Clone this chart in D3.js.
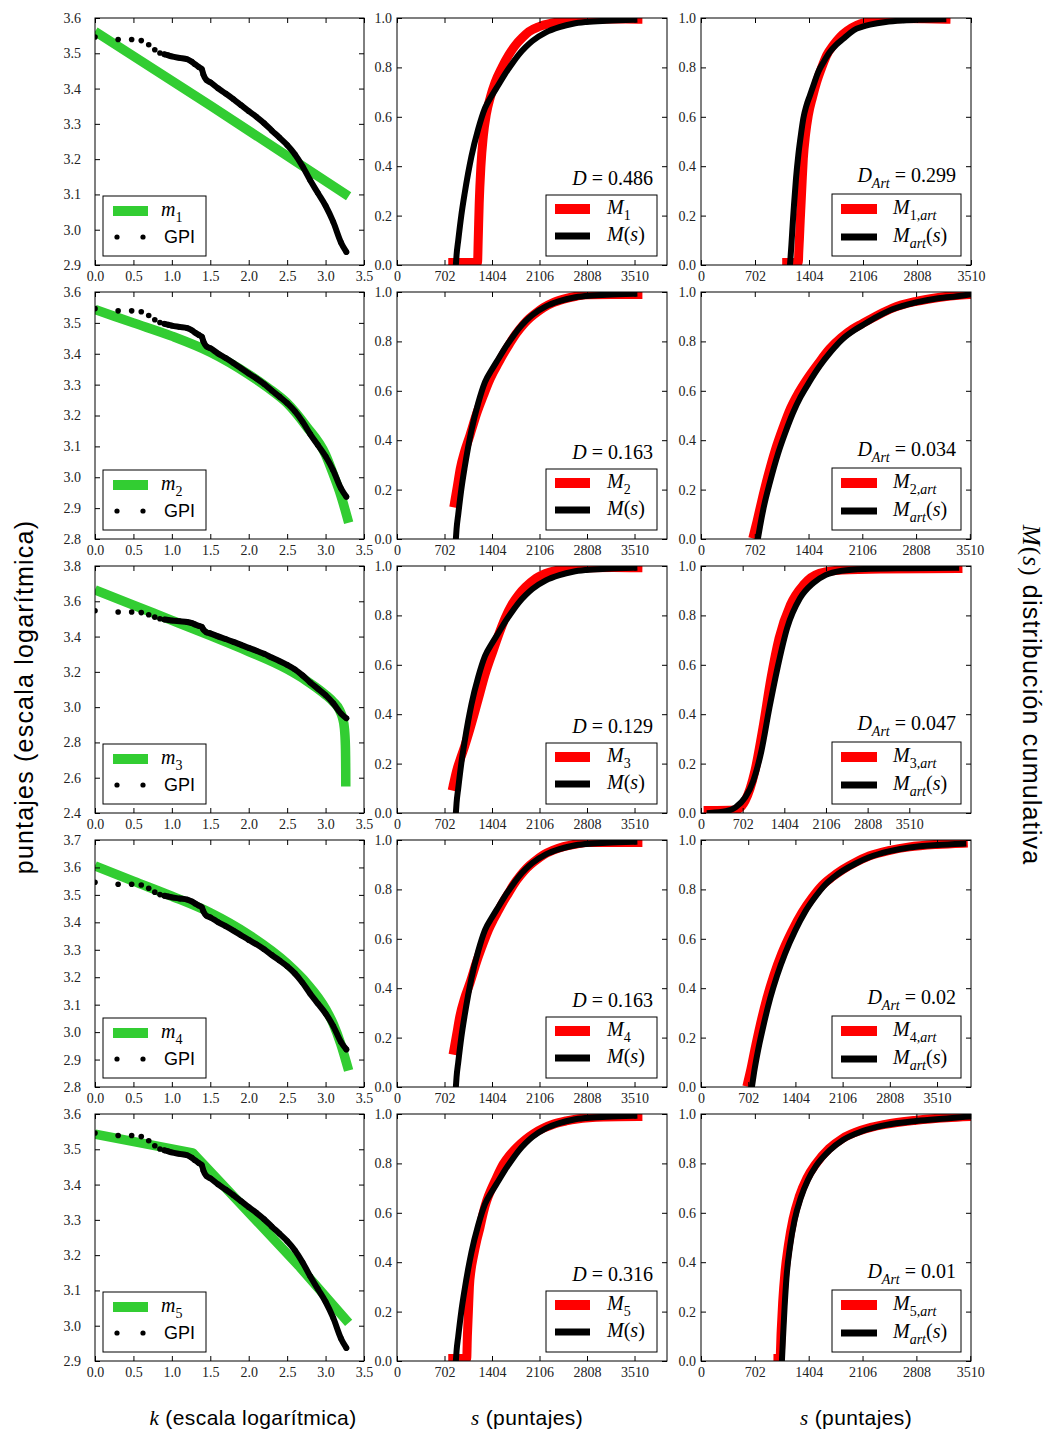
<!DOCTYPE html>
<html>
<head>
<meta charset="utf-8">
<script src="https://cdn.jsdelivr.net/npm/d3@7"></script>
<style>
  body { margin: 0; background: #fff; }
  svg { display: block; }
  text { white-space: pre; }
</style>
</head>
<body>
<script>
// ---------- data ----------
// GPI ranking: [log10 rank k, log10 score]
const gpi = [
  [0.000,3.546],[0.301,3.539],[0.477,3.539],[0.602,3.536],[0.699,3.524],[0.778,3.510],
  [0.845,3.501],[0.903,3.497],[0.954,3.494],[1.000,3.491],[1.100,3.487],[1.200,3.483],
  [1.260,3.476],[1.300,3.469],[1.350,3.461],[1.390,3.455],[1.410,3.440],[1.450,3.424],
  [1.500,3.418],[1.600,3.401],[1.700,3.386],[1.800,3.370],[1.900,3.353],[2.000,3.336],
  [2.100,3.320],[2.200,3.302],[2.300,3.281],[2.400,3.261],[2.500,3.240],[2.600,3.214],
  [2.700,3.180],[2.800,3.140],[2.900,3.104],[3.000,3.068],[3.100,3.022],[3.200,2.964],
  [3.270,2.937]
];
// fitted rank models m1..m5: [log10 k, log10 score]
const m1 = [[0,3.562],[1.5,3.352],[3.30,3.095]];
const m2 = [[0,3.543],[0.5,3.500],[1.0,3.457],[1.5,3.405],[2.0,3.333],[2.25,3.290],[2.5,3.240],
            [2.75,3.165],[3.0,3.073],[3.1,3.010],[3.2,2.940],[3.25,2.898],[3.3,2.853]];
const m3 = [[0,3.665],[0.5,3.578],[1.0,3.492],[1.5,3.405],[2.0,3.315],[2.5,3.215],[2.75,3.150],
            [3.0,3.070],[3.1,3.030],[3.18,2.985],[3.22,2.940],[3.245,2.880],[3.258,2.780],
            [3.262,2.650],[3.263,2.550]];
const m4 = [[0,3.606],[0.5,3.550],[1.0,3.495],[1.5,3.435],[2.0,3.355],[2.5,3.250],[2.75,3.180],
            [3.0,3.085],[3.1,3.030],[3.2,2.955],[3.3,2.860]];
const m5 = [[0,3.543],[1.27,3.490],[2.65,3.170],[3.3,3.008]];
const rankModels = [m1, m2, m3, m4, m5];
const rankModelSmooth = [false, true, true, true, false];

// empirical cumulative distribution of GPI scores: [s, M(s)]
const cdfGpi = [
  [870,0],[880,0.04],[905,0.10],[950,0.20],[1000,0.29],[1050,0.37],[1100,0.44],[1200,0.55],
  [1300,0.635],[1400,0.685],[1500,0.73],[1600,0.775],[1700,0.815],[1800,0.852],[1900,0.882],
  [2000,0.907],[2200,0.942],[2400,0.963],[2600,0.977],[2800,0.984],[3100,0.989],[3508,0.993]
];
// model cumulative distributions M1..M5: [s, M_i(s)]
const cdfM1 = [[824,0.01],[1190,0.01],[1200,0.10],[1215,0.25],[1240,0.40],[1275,0.52],[1320,0.61],
  [1380,0.68],[1450,0.74],[1550,0.80],[1650,0.85],[1750,0.89],[1850,0.92],[1950,0.945],[2100,0.965],
  [2300,0.98],[2600,0.992],[3000,0.996],[3560,0.995]];
const cdfM2 = [[850,0.146],[890,0.21],[935,0.285],[1000,0.355],[1078,0.42],[1180,0.51],[1276,0.58],
  [1350,0.632],[1424,0.675],[1500,0.713],[1572,0.749],[1650,0.784],[1720,0.815],[1820,0.852],
  [1918,0.883],[2040,0.912],[2165,0.937],[2300,0.956],[2462,0.971],[2650,0.983],[2808,0.989],
  [3200,0.990],[3560,0.990]];
const cdfM3 = [[829,0.109],[880,0.17],[950,0.23],[1000,0.27],[1078,0.34],[1200,0.46],[1300,0.56],
  [1424,0.66],[1500,0.72],[1600,0.79],[1700,0.845],[1800,0.885],[1900,0.915],[2050,0.95],
  [2250,0.975],[2500,0.988],[2800,0.993],[3200,0.994],[3560,0.993]];
const cdfM4 = [[840,0.149],[880,0.21],[929,0.287],[1000,0.36],[1078,0.421],[1180,0.51],[1276,0.583],
  [1350,0.635],[1424,0.677],[1500,0.715],[1572,0.751],[1650,0.786],[1720,0.818],[1820,0.855],
  [1918,0.886],[2040,0.915],[2165,0.94],[2300,0.958],[2462,0.973],[2650,0.984],[2808,0.99],
  [3200,0.99],[3560,0.99]];
const cdfM5 = [[824,0.01],[1030,0.01],[1040,0.10],[1055,0.20],[1070,0.30],[1095,0.37],[1127,0.42],
  [1180,0.49],[1226,0.54],[1275,0.60],[1325,0.648],[1400,0.70],[1450,0.73],[1570,0.797],[1670,0.835],
  [1770,0.865],[1900,0.897],[2017,0.92],[2160,0.942],[2314,0.959],[2500,0.972],[2660,0.98],
  [3055,0.988],[3560,0.99]];
const modelCdfs = [cdfM1, cdfM2, cdfM3, cdfM4, cdfM5];

// artificial samples: empirical M_art(s) and model M_i,art(s)
const artEmp1 = [[1157,0],[1175,0.08],[1195,0.18],[1209,0.243],[1235,0.35],[1265,0.445],[1300,0.53],
  [1330,0.593],[1370,0.645],[1417,0.687],[1470,0.735],[1525,0.782],[1600,0.825],[1677,0.863],
  [1760,0.892],[1850,0.916],[1940,0.94],[2024,0.957],[2100,0.965],[2197,0.973],[2400,0.984],
  [2630,0.99],[2900,0.993],[3150,0.995]];
const artMod1 = [[1114,0.01],[1265,0.01],[1272,0.06],[1280,0.108],[1290,0.18],[1300,0.243],[1315,0.34],
  [1330,0.43],[1360,0.53],[1395,0.606],[1450,0.68],[1504,0.741],[1570,0.80],[1634,0.849],[1720,0.89],
  [1807,0.923],[1900,0.948],[2024,0.97],[2197,0.987],[2400,0.995],[2630,0.998],[2900,0.997],[3185,0.995]];
const artEmp2 = [[742,0],[770,0.05],[820,0.13],[900,0.23],[1000,0.34],[1100,0.43],[1200,0.51],
  [1300,0.575],[1404,0.63],[1550,0.70],[1700,0.76],[1850,0.81],[2000,0.845],[2106,0.865],[2300,0.90],
  [2500,0.93],[2808,0.958],[3100,0.975],[3400,0.985],[3500,0.99]];
const artMod2 = [[690,0.02],[730,0.07],[790,0.15],[870,0.25],[970,0.36],[1070,0.45],[1170,0.53],
  [1270,0.59],[1380,0.645],[1530,0.71],[1680,0.77],[1830,0.815],[1980,0.85],[2106,0.872],[2300,0.905],
  [2500,0.935],[2808,0.962],[3100,0.978],[3400,0.988],[3510,0.99]];
const artEmp3 = [[147,0],[419,0.007],[582,0.023],[745,0.063],[881,0.13],[1017,0.25],[1153,0.426],
  [1289,0.587],[1452,0.749],[1670,0.87],[1888,0.93],[2105,0.964],[2377,0.981],[2758,0.988],
  [3500,0.991],[4300,0.993]];
const artMod3 = [[120,0.01],[582,0.012],[745,0.05],[908,0.17],[1044,0.345],[1180,0.547],[1316,0.708],
  [1507,0.843],[1724,0.923],[1996,0.97],[2377,0.984],[3030,0.988],[3700,0.989],[4330,0.99]];
const artEmp4 = [[757,0],[790,0.06],[850,0.15],[930,0.25],[1030,0.36],[1130,0.45],[1250,0.54],
  [1404,0.635],[1550,0.71],[1700,0.77],[1850,0.82],[2000,0.855],[2106,0.875],[2300,0.905],
  [2500,0.93],[2808,0.955],[3100,0.97],[3510,0.98],[3900,0.985]];
const artMod4 = [[697,0.02],[740,0.07],[800,0.15],[880,0.25],[980,0.36],[1080,0.45],[1200,0.54],
  [1350,0.63],[1500,0.705],[1650,0.765],[1800,0.815],[1950,0.85],[2106,0.88],[2300,0.91],
  [2500,0.935],[2808,0.958],[3100,0.972],[3510,0.982],[3900,0.987]];
const artEmp5 = [[1055,0],[1070,0.10],[1090,0.22],[1115,0.34],[1159,0.46],[1220,0.57],[1300,0.66],
  [1394,0.733],[1500,0.79],[1680,0.854],[1850,0.895],[2097,0.93],[2400,0.955],[2808,0.972],
  [3200,0.982],[3510,0.99]];
const artMod5 = [[1003,0.01],[1030,0.01],[1045,0.12],[1065,0.24],[1095,0.36],[1140,0.47],[1200,0.575],
  [1280,0.665],[1380,0.74],[1490,0.795],[1670,0.86],[1840,0.9],[2097,0.935],[2400,0.958],
  [2808,0.975],[3200,0.985],[3510,0.99]];
const artEmp = [artEmp1, artEmp2, artEmp3, artEmp4, artEmp5];
const artMod = [artMod1, artMod2, artMod3, artMod4, artMod5];

// annotations
const modelIds = ["1", "2", "3", "4", "5"];
const dValues = ["0.486", "0.163", "0.129", "0.163", "0.316"];
const dArtValues = ["0.299", "0.034", "0.047", "0.02", "0.01"];

// axis domains and tick labels
const kTicks = [0, 0.5, 1.0, 1.5, 2.0, 2.5, 3.0, 3.5];
const sTicks = [0, 702, 1404, 2106, 2808, 3510];
const cdfTicks = [0, 0.2, 0.4, 0.6, 0.8, 1.0];
const leftYDomains = [[2.9, 3.6], [2.8, 3.6], [2.4, 3.8], [2.8, 3.7], [2.9, 3.6]];
const leftYTicks = [
  [2.9, 3.0, 3.1, 3.2, 3.3, 3.4, 3.5, 3.6],
  [2.8, 2.9, 3.0, 3.1, 3.2, 3.3, 3.4, 3.5, 3.6],
  [2.4, 2.6, 2.8, 3.0, 3.2, 3.4, 3.6, 3.8],
  [2.8, 2.9, 3.0, 3.1, 3.2, 3.3, 3.4, 3.5, 3.6, 3.7],
  [2.9, 3.0, 3.1, 3.2, 3.3, 3.4, 3.5, 3.6]
];
const midXMax = 3990;
const artXMax = [3510, 3525, 4550, 4015, 3520];

// ---------- layout & style ----------
const W = 1048, H = 1432;
const COLS = [
  { x0: 95, x1: 364, gap: 14 },
  { x0: 397, x1: 667, gap: 5 },
  { x0: 701, x1: 971, gap: 5 }
];
const ROW_TOP = [18, 292, 566, 840, 1114];
const ROW_H = 247;
const TICK = 5;
const SERIF = "'Liberation Serif', 'Times New Roman', serif";
const SANS = "'Liberation Sans', Arial, Helvetica, sans-serif";
const GREEN = "#32cd32", RED = "#ff0000", BLACK = "#000000";

const svg = d3.select("body").append("svg")
  .attr("width", W).attr("height", H)
  .attr("viewBox", `0 0 ${W} ${H}`);

let clipCount = 0;
function makePanel(col, row, xDomain, yDomain) {
  const c = COLS[col], top = ROW_TOP[row], bottom = top + ROW_H;
  const x = d3.scaleLinear().domain(xDomain).range([c.x0, c.x1]);
  const y = d3.scaleLinear().domain(yDomain).range([bottom, top]);
  const id = "clip" + (clipCount++);
  svg.append("clipPath").attr("id", id).append("rect")
    .attr("x", c.x0).attr("y", top).attr("width", c.x1 - c.x0).attr("height", ROW_H);
  const plot = svg.append("g").attr("clip-path", `url(#${id})`);
  return { x, y, plot, x0: c.x0, x1: c.x1, top, bottom, gap: c.gap };
}

function drawAxes(p, xTicks, xFmt, yTicks, yFmt) {
  const g = svg.append("g");
  g.append("g").attr("transform", `translate(0,${p.bottom})`)
    .call(d3.axisBottom(p.x).tickValues(xTicks).tickFormat(xFmt)
      .tickSizeInner(-TICK).tickSizeOuter(0).tickPadding(6));
  g.append("g").attr("transform", `translate(0,${p.top})`)
    .call(d3.axisTop(p.x).tickValues(xTicks).tickFormat(() => "")
      .tickSizeInner(-TICK).tickSizeOuter(0));
  g.append("g").attr("transform", `translate(${p.x0},0)`)
    .call(d3.axisLeft(p.y).tickValues(yTicks).tickFormat(yFmt)
      .tickSizeInner(-TICK).tickSizeOuter(0).tickPadding(p.gap));
  g.append("g").attr("transform", `translate(${p.x1},0)`)
    .call(d3.axisRight(p.y).tickValues(yTicks).tickFormat(() => "")
      .tickSizeInner(-TICK).tickSizeOuter(0));
  g.selectAll(".domain").remove();
  g.selectAll("g").attr("font-family", SERIF).attr("font-size", 14);
  g.selectAll(".tick line").attr("stroke", "#000").attr("stroke-width", 1);
  g.selectAll(".tick text").attr("fill", "#222");
  g.append("rect")
    .attr("x", p.x0).attr("y", p.top)
    .attr("width", p.x1 - p.x0).attr("height", ROW_H)
    .attr("fill", "none").attr("stroke", "#000").attr("stroke-width", 1);
}

// math-like text: parts are [text, style]; style: i italic, r roman, si/sr subscript
function mathText(sel, parts, size) {
  let inSub = false;
  parts.forEach(([t, s]) => {
    const sub = s[0] === "s";
    const ts = sel.append("tspan").text(t)
      .attr("font-style", s[s.length - 1] === "i" ? "italic" : "normal")
      .attr("font-size", sub ? size * 0.7 : size);
    if (sub && !inSub) ts.attr("dy", size * 0.3);
    if (!sub && inSub) ts.attr("dy", -size * 0.3);
    inSub = sub;
  });
  return sel;
}

function lineGen(p, smooth) {
  const g = d3.line().x(d => p.x(d[0])).y(d => p.y(d[1]));
  return smooth ? g.curve(d3.curveMonotoneX) : g;
}

function legendBox(x, y, w, h) {
  svg.append("rect").attr("x", x).attr("y", y).attr("width", w).attr("height", h)
    .attr("fill", "#fff").attr("stroke", "#000").attr("stroke-width", 1);
}

// ---------- panels ----------
for (let r = 0; r < 5; r++) {
  // left: ranking in log-log scale
  const pl = makePanel(0, r, [0, 3.5], leftYDomains[r]);
  pl.plot.append("path").datum(rankModels[r]).attr("d", lineGen(pl, rankModelSmooth[r]))
    .attr("fill", "none").attr("stroke", GREEN).attr("stroke-width", 9.5)
    .attr("stroke-linecap", "butt").attr("stroke-linejoin", "round");
  pl.plot.append("path").datum(gpi.filter(d => d[0] >= 0.9)).attr("d", lineGen(pl, true))
    .attr("fill", "none").attr("stroke", BLACK).attr("stroke-width", 6)
    .attr("stroke-linecap", "round").attr("stroke-linejoin", "round");
  pl.plot.selectAll("circle").data(gpi).join("circle")
    .attr("cx", d => pl.x(d[0])).attr("cy", d => pl.y(d[1])).attr("r", 2.8).attr("fill", BLACK);
  drawAxes(pl, kTicks, d3.format(".1f"), leftYTicks[r], d3.format(".1f"));
  {
    const bx = pl.x0 + 8, by = pl.bottom - 9 - 60;
    legendBox(bx, by, 103, 60);
    svg.append("line").attr("x1", bx + 10).attr("x2", bx + 45)
      .attr("y1", by + 15).attr("y2", by + 15)
      .attr("stroke", GREEN).attr("stroke-width", 10);
    mathText(svg.append("text").attr("x", bx + 58).attr("y", by + 15).attr("dy", "0.3em")
      .attr("font-family", SERIF), [["m", "i"], [modelIds[r], "sr"]], 20);
    [14, 40].forEach(dx => svg.append("circle").attr("cx", bx + dx).attr("cy", by + 41)
      .attr("r", 2.6).attr("fill", BLACK));
    svg.append("text").attr("x", bx + 61).attr("y", by + 41).attr("dy", "0.36em")
      .attr("font-family", SANS).attr("font-size", 18).text("GPI");
  }

  // middle: cumulative distribution of scores
  const pm = makePanel(1, r, [0, midXMax], [0, 1]);
  pm.plot.append("path").datum(modelCdfs[r]).attr("d", lineGen(pm, true))
    .attr("fill", "none").attr("stroke", RED).attr("stroke-width", 9)
    .attr("stroke-linecap", "square").attr("stroke-linejoin", "round");
  pm.plot.append("path").datum(cdfGpi).attr("d", lineGen(pm, true))
    .attr("fill", "none").attr("stroke", BLACK).attr("stroke-width", 6)
    .attr("stroke-linecap", "square").attr("stroke-linejoin", "round");
  drawAxes(pm, sTicks, d3.format("d"), cdfTicks, d3.format(".1f"));
  mathText(svg.append("text").attr("x", pm.x1 - 14).attr("y", pm.bottom - 80)
    .attr("text-anchor", "end").attr("font-family", SERIF),
    [["D", "i"], [" = " + dValues[r], "r"]], 20);
  {
    const w = 111, h = 61, bx = pm.x1 - 10 - w, by = pm.bottom - 9 - h;
    legendBox(bx, by, w, h);
    svg.append("line").attr("x1", bx + 9).attr("x2", bx + 44).attr("y1", by + 14).attr("y2", by + 14)
      .attr("stroke", RED).attr("stroke-width", 10);
    svg.append("line").attr("x1", bx + 9).attr("x2", bx + 44).attr("y1", by + 41).attr("y2", by + 41)
      .attr("stroke", BLACK).attr("stroke-width", 7);
    mathText(svg.append("text").attr("x", bx + 61).attr("y", by + 14).attr("dy", "0.33em")
      .attr("font-family", SERIF), [["M", "i"], [modelIds[r], "sr"]], 20);
    mathText(svg.append("text").attr("x", bx + 61).attr("y", by + 41).attr("dy", "0.33em")
      .attr("font-family", SERIF), [["M", "i"], ["(", "r"], ["s", "i"], [")", "r"]], 20);
  }

  // right: cumulative distribution of artificial samples
  const pr = makePanel(2, r, [0, artXMax[r]], [0, 1]);
  pr.plot.append("path").datum(artMod[r]).attr("d", lineGen(pr, true))
    .attr("fill", "none").attr("stroke", RED).attr("stroke-width", 9)
    .attr("stroke-linecap", "square").attr("stroke-linejoin", "round");
  pr.plot.append("path").datum(artEmp[r]).attr("d", lineGen(pr, true))
    .attr("fill", "none").attr("stroke", BLACK).attr("stroke-width", 6)
    .attr("stroke-linecap", "square").attr("stroke-linejoin", "round");
  drawAxes(pr, sTicks, d3.format("d"), cdfTicks, d3.format(".1f"));
  mathText(svg.append("text").attr("x", pr.x1 - 15).attr("y", pr.bottom - 83)
    .attr("text-anchor", "end").attr("font-family", SERIF),
    [["D", "i"], ["Art", "si"], [" = " + dArtValues[r], "r"]], 20);
  {
    const w = 129, h = 62, bx = pr.x1 - 10 - w, by = pr.bottom - 9 - h;
    legendBox(bx, by, w, h);
    svg.append("line").attr("x1", bx + 9).attr("x2", bx + 45).attr("y1", by + 15).attr("y2", by + 15)
      .attr("stroke", RED).attr("stroke-width", 10);
    svg.append("line").attr("x1", bx + 9).attr("x2", bx + 45).attr("y1", by + 43).attr("y2", by + 43)
      .attr("stroke", BLACK).attr("stroke-width", 7);
    mathText(svg.append("text").attr("x", bx + 61).attr("y", by + 15).attr("dy", "0.33em")
      .attr("font-family", SERIF), [["M", "i"], [modelIds[r] + ",", "sr"], ["art", "si"]], 20);
    mathText(svg.append("text").attr("x", bx + 61).attr("y", by + 43).attr("dy", "0.33em")
      .attr("font-family", SERIF),
      [["M", "i"], ["art", "si"], ["(", "r"], ["s", "i"], [")", "r"]], 20);
  }
}

// ---------- figure labels ----------
svg.append("text")
  .attr("transform", "translate(33,697) rotate(-90)")
  .attr("text-anchor", "middle").attr("font-family", SANS).attr("font-size", 25)
  .attr("letter-spacing", 1.2)
  .text("puntajes (escala logarítmica)");

{
  const t = svg.append("text")
    .attr("transform", "translate(1023,695) rotate(90)")
    .attr("text-anchor", "middle").attr("font-family", SANS).attr("font-size", 25)
    .attr("letter-spacing", 1.2);
  t.append("tspan").attr("font-family", SERIF).attr("font-style", "italic").text("M");
  t.append("tspan").attr("font-family", SERIF).text("(");
  t.append("tspan").attr("font-family", SERIF).attr("font-style", "italic").text("s");
  t.append("tspan").attr("font-family", SERIF).text(")");
  t.append("tspan").text(" distribución cumulativa");
}

function bottomLabel(cx, sym, rest) {
  const t = svg.append("text").attr("x", cx).attr("y", 1425)
    .attr("text-anchor", "middle").attr("font-family", SANS).attr("font-size", 21)
    .attr("letter-spacing", 0.4);
  t.append("tspan").attr("font-family", SERIF).attr("font-style", "italic").text(sym);
  t.append("tspan").text(rest);
}
bottomLabel(253, "k", " (escala logarítmica)");
bottomLabel(527, "s", " (puntajes)");
bottomLabel(856, "s", " (puntajes)");
</script>
</body>
</html>
